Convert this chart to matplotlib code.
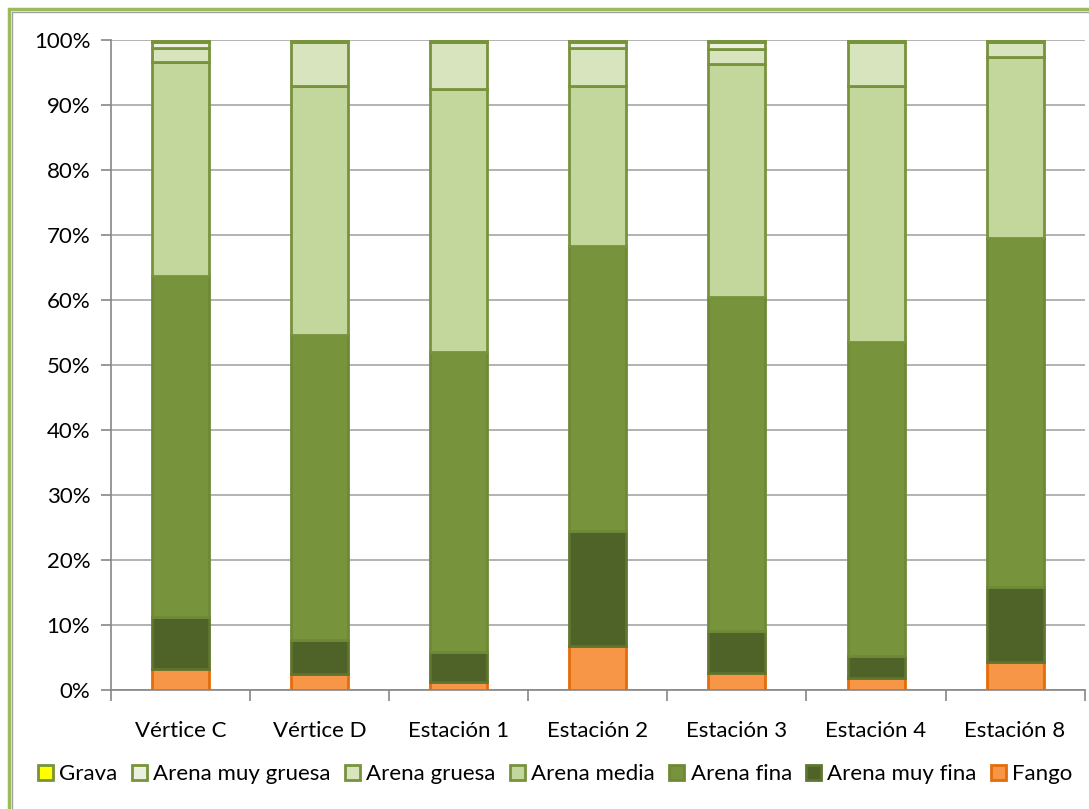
import numpy as np
import matplotlib.pyplot as plt
from matplotlib.patches import Rectangle

plt.rcParams['font.family'] = ['Lato', 'DejaVu Sans']

# stations
stations = ["Vértice C", "Vértice D", "Estación 1", "Estación 2",
            "Estación 3", "Estación 4", "Estación 8"]

# percentages per grain size (bottom to top)
fango = [3.3, 2.5, 1.3, 6.8, 2.6, 1.8, 4.3]
arena_muy_fina = [7.9, 5.2, 4.6, 17.7, 6.5, 3.4, 11.5]
arena_fina = [52.5, 46.9, 46.1, 43.7, 51.4, 48.3, 53.7]
arena_media = [32.8, 38.3, 40.4, 24.6, 35.8, 39.4, 27.8]
arena_gruesa = [2.2, 6.8, 7.2, 5.9, 2.3, 6.8, 2.4]
arena_muy_gruesa = [1.0, 0.2, 0.3, 1.0, 1.1, 0.2, 0.2]
grava = [0.3, 0.1, 0.1, 0.3, 0.3, 0.1, 0.1]

layers = [
    ("Fango", fango, "#F79646", "#E46C0A"),
    ("Arena muy fina", arena_muy_fina, "#4F6228", "#5F7530"),
    ("Arena fina", arena_fina, "#77933C", "#6E8A36"),
    ("Arena media", arena_media, "#C3D69B", "#77933C"),
    ("Arena gruesa", arena_gruesa, "#D7E4BD", "#77933C"),
    ("Arena muy gruesa", arena_muy_gruesa, "#EBF1DE", "#77933C"),
    ("Grava", grava, "#FFFF00", "#77933C"),
]

fig = plt.figure(figsize=(10.89, 8.09), dpi=100)
ax = fig.add_axes([0.102, 0.147, 0.894, 0.804])

x = np.arange(len(stations))
bottom = np.zeros(len(stations))
handles = {}
for name, vals, col, edge in layers:
    b = ax.bar(x, vals, 0.41, bottom=bottom, color=col, edgecolor=edge,
               linewidth=2, label=name, zorder=3)
    handles[name] = b
    bottom += np.array(vals)

ax.set_xlim(-0.5, len(stations) - 0.5)
ax.set_ylim(0, 100)
ax.set_yticks(np.arange(0, 101, 10))
ax.set_yticklabels([f"{v}%" for v in range(0, 101, 10)], fontsize=16)
ax.yaxis.grid(True, color="#A6A6A6", linewidth=1.2, zorder=0)

# category boundary ticks on x axis
ax.set_xticks(np.arange(-0.5, len(stations), 1))
ax.set_xticklabels([])
ax.set_xticks(x, minor=True)
ax.set_xticklabels(stations, minor=True, fontsize=16)
ax.tick_params(axis="x", which="minor", length=0, pad=22)
ax.tick_params(axis="x", which="major", length=8, color="#868686", width=1.2)
ax.tick_params(axis="y", length=7, color="#868686", width=1.2, pad=8)

for s in ["top", "right"]:
    ax.spines[s].set_visible(False)
for s in ["left", "bottom"]:
    ax.spines[s].set_color("#868686")
    ax.spines[s].set_linewidth(1.2)

# legend order as in the chart
order = ["Grava", "Arena muy gruesa", "Arena gruesa", "Arena media",
         "Arena fina", "Arena muy fina", "Fango"]
fig.legend([handles[n] for n in order], order, loc="center",
           bbox_to_anchor=(0.51, 0.043), ncol=7, frameon=False,
           fontsize=16, handlelength=0.65, handleheight=0.65,
           handletextpad=0.3, columnspacing=0.65)

# chart frame (green outer, gray inner)
fig.patches.append(Rectangle((9 / 1089, -0.1), 1.2, 1.1 - 9 / 809,
                             transform=fig.transFigure, fill=False,
                             edgecolor="#9BBB59", linewidth=2.5))
fig.patches.append(Rectangle((12 / 1089, -0.1), 1.2, 1.1 - 12 / 809,
                             transform=fig.transFigure, fill=False,
                             edgecolor="#A0A0A0", linewidth=1))

fig.savefig("out.png", dpi=100)
